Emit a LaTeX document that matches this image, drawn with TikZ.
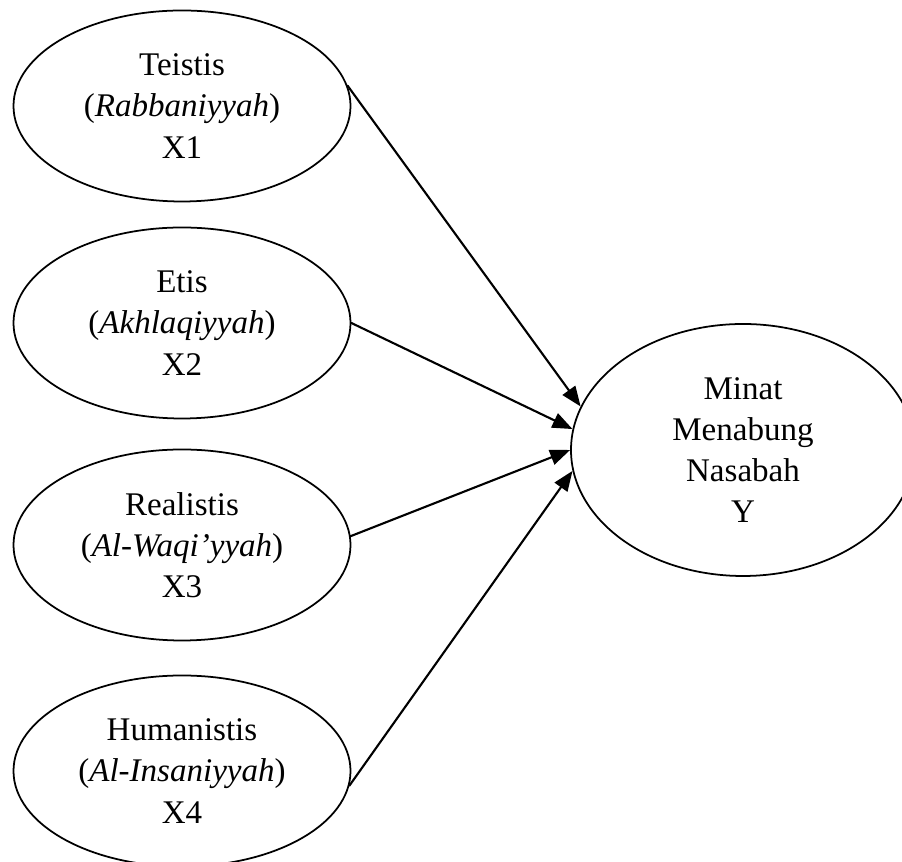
\documentclass[tikz,border=0pt]{standalone}
\usepackage{fontspec}
\setmainfont{Liberation Serif}
\usetikzlibrary{arrows.meta,shapes.geometric}

\begin{document}
\begin{tikzpicture}[x=1cm,y=1cm]
\tikzset{
  varnode/.style={ellipse,draw=black,line width=1pt,inner sep=0pt,align=center,
    font=\fontsize{18.8pt}{23.4pt}\selectfont},
  xnode/.style={varnode,minimum width=6.74cm,minimum height=3.82cm},
  ynode/.style={varnode,minimum width=6.88cm,minimum height=5.04cm},
  varedge/.style={draw=black,line width=1.2pt,line cap=round,line join=round},
  directed/.style={varedge,-{Triangle[length=4mm,width=3.1mm]}}
}
\useasboundingbox (0,0) rectangle (18.04,17.24);
\node[xnode] (n_X1) at (3.64,15.12) {Teistis\\(\textit{Rabbaniyyah})\\X1};
\node[xnode] (n_X2) at (3.64,10.78) {Etis\\(\textit{Akhlaqiyyah})\\X2};
\node[xnode] (n_X3) at (3.64,6.34) {Realistis\\(\textit{Al-Waqi’yyah})\\X3};
\node[xnode] (n_X4) at (3.64,1.82) {Humanistis\\(\textit{Al-Insaniyyah})\\X4};
\node[ynode] (n_Y) at (14.86,8.24) {Minat\\Menabung\\Nasabah\\Y};
\draw[directed] (n_X1.7) -- (n_Y.165);
\draw[directed] (n_X2.0) -- (n_Y.173);
\draw[directed] (n_X3.3) -- (n_Y.180);
\draw[directed] (n_X4.-5) -- (n_Y.187);
\end{tikzpicture}
\end{document}
